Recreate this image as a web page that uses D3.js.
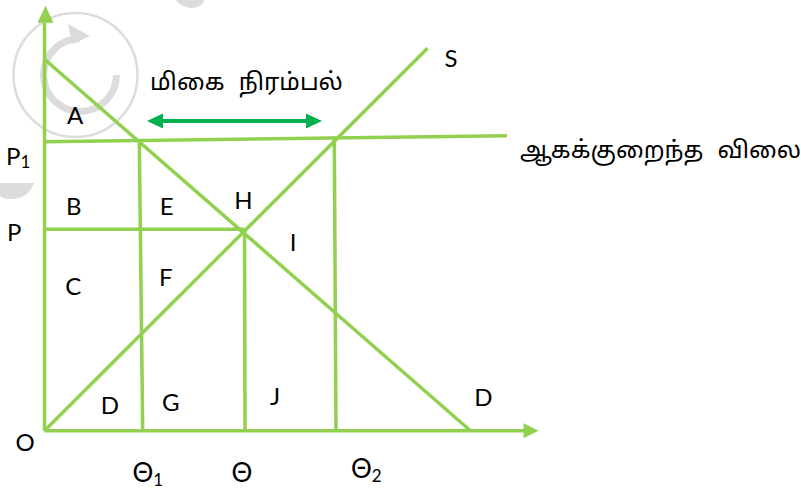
<!DOCTYPE html>
<html>
<head>
<meta charset="utf-8">
<script src="https://cdn.jsdelivr.net/npm/d3@7"></script>
<style>
  body { margin: 0; background: #fff; }
  svg { display: block; }
  .curve { fill: none; stroke: #92d050; stroke-width: 3.5; }
  .lbl { font-family: Lato, 'Open Sans', sans-serif; font-size: 24px; fill: #000; }
  .theta { font-size: 26px; }
  .ta { font-family: Latha, 'Noto Sans Tamil', 'Noto Serif Tamil', serif; font-size: 24px; fill: #000; word-spacing: 8px; }
</style>
</head>
<body>
<svg id="chart" width="801" height="489"></svg>
<script>
// quantity / price values (0..100 units on each axis)
const demandLine = [[0, 87.4], [85.2, 0]]
const supplyLine = [[0, 0], [76.6, 90.0]]
const floorLine = [[0, 68.0], [92.5, 69.4]]
const equilibriumPrice = 47.4

// quantities: where the vertical line meets the top and the x axis
const qNames = ['Θ', 'Θ', 'Θ']
const qSubs = ['1', '', '2']
const qTop = [18.96, 40.0, 57.96]
const qBottom = [19.64, 40.1, 58.3]
const qTopPrice = ['floor', 'eq', 'floor']
const qLabelAt = [17.6, 37.4, 61.3]

const surplusRange = [20.5, 55.5]
const surplusPrice = 72.9

const areaNames = ['A', 'B', 'C', 'D', 'E', 'F', 'G', 'H', 'I', 'J', 'D', 'S']
const areaQ = [6.1, 5.84, 5.76, 13.1, 24.44, 24.24, 25.24, 39.76, 49.7, 46.1, 87.76, 81.3]
const areaP = [72.2, 50.75, 31.9, 3.9, 50.75, 34.05, 4.7, 52.2, 42.35, 6.05, 5.8, 85.5]

const surplusText = 'மிகை நிரம்பல்'
const floorText = 'ஆகக்குறைந்த விலை'

const svg = d3.select('#chart')

const x = d3.scaleLinear().domain([0, 100]).range([44.5, 544.5])
const y = d3.scaleLinear().domain([0, 100]).range([430.7, 5.7])

const floorAt = q => floorLine[0][1] + (floorLine[1][1] - floorLine[0][1]) * q / floorLine[1][0]

// faint watermark
const wm = svg.append('g').attr('fill', '#dcdcdc')
wm.append('circle')
  .attr('cx', 75.5).attr('cy', 75).attr('r', 62)
  .attr('fill', 'none').attr('stroke', '#dcdcdc').attr('stroke-width', 2.5)
wm.append('path')
  .attr('transform', 'translate(80,75)')
  .attr('d', d3.arc()({ innerRadius: 33, outerRadius: 40, startAngle: 0.5 * Math.PI, endAngle: 2 * Math.PI }))
wm.append('path').attr('d', 'M68,24 L90,36 L72,44 Z')
wm.append('path').attr('d', 'M0,183 L34,183 Q28,200 8,199 Q0,198 0,195 Z')
wm.append('path').attr('d', 'M176,0 L205,0 Q200,9 190,8 Q180,6 176,0 Z')

const line = d3.line().x(d => x(d[0])).y(d => y(d[1]))

// axes with arrow heads
const axisColor = '#92d050'
svg.append('path').attr('class', 'curve')
  .attr('d', line([[0, 0], [0, 96]]))
svg.append('path').attr('class', 'curve')
  .attr('d', line([[0, 0], [96, 0]]))
svg.append('path').attr('fill', axisColor)
  .attr('d', `M${x(0) + 1},${y(100)} L${x(0) - 7},${y(100) + 17} L${x(0) + 9},${y(100) + 17} Z`)
svg.append('path').attr('fill', axisColor)
  .attr('d', `M${x(98.8)},${y(0)} L${x(98.8) - 15},${y(0) - 7.5} L${x(98.8) - 15},${y(0) + 7.5} Z`)

// curves
svg.append('path').attr('class', 'curve').attr('d', line(demandLine))
svg.append('path').attr('class', 'curve').attr('d', line(supplyLine))
svg.append('path').attr('class', 'curve').attr('d', line(floorLine))
svg.append('path').attr('class', 'curve')
  .attr('d', line([[0, equilibriumPrice], [qTop[1], equilibriumPrice]]))

qTop.forEach((q, i) => {
  const top = qTopPrice[i] === 'floor' ? floorAt(q) : equilibriumPrice
  svg.append('path').attr('class', 'curve')
    .attr('d', line([[q, top], [qBottom[i], 0]]))
})

// excess supply arrow
const ay = y(surplusPrice)
const a0 = x(surplusRange[0])
const a1 = x(surplusRange[1])
const arrowColor = '#00b050'
svg.append('line')
  .attr('x1', a0 + 10).attr('x2', a1 - 10).attr('y1', ay).attr('y2', ay)
  .attr('stroke', arrowColor).attr('stroke-width', 4)
svg.append('path').attr('fill', arrowColor)
  .attr('d', `M${a0},${ay} L${a0 + 16},${ay - 7.5} L${a0 + 16},${ay + 7.5} Z`)
svg.append('path').attr('fill', arrowColor)
  .attr('d', `M${a1},${ay} L${a1 - 16},${ay - 7.5} L${a1 - 16},${ay + 7.5} Z`)

// area letters
svg.selectAll('text.area')
  .data(areaNames)
  .join('text')
  .attr('class', 'lbl area')
  .attr('text-anchor', 'middle')
  .attr('x', (d, i) => x(areaQ[i]))
  .attr('y', (d, i) => y(areaP[i]))
  .text(d => d)

// price labels on the y axis
const p1 = svg.append('text').attr('class', 'lbl')
  .attr('x', 6).attr('y', y(floorLine[0][1]) + 23)
p1.append('tspan').text('P')
p1.append('tspan').attr('font-size', 17).attr('dy', 3).text('1')
svg.append('text').attr('class', 'lbl')
  .attr('x', 7).attr('y', y(equilibriumPrice) + 12).text('P')
svg.append('text').attr('class', 'lbl').attr('text-anchor', 'middle')
  .attr('x', 25).attr('y', y(0) + 20).text('O')

// quantity labels on the x axis
qNames.forEach((n, i) => {
  const t = svg.append('text').attr('class', 'lbl theta')
    .attr('x', x(qLabelAt[i]))
    .attr('y', y(0) + (i === 2 ? 47 : 51))
  t.append('tspan').text(n)
  if (qSubs[i]) t.append('tspan').attr('font-size', 17).attr('dy', 4).text(qSubs[i])
})

// Tamil annotations
svg.append('text').attr('class', 'ta')
  .attr('x', 150).attr('y', 90).text(surplusText)
svg.append('text').attr('class', 'ta')
  .attr('x', 520).attr('y', 158).text(floorText)
</script>
</body>
</html>
